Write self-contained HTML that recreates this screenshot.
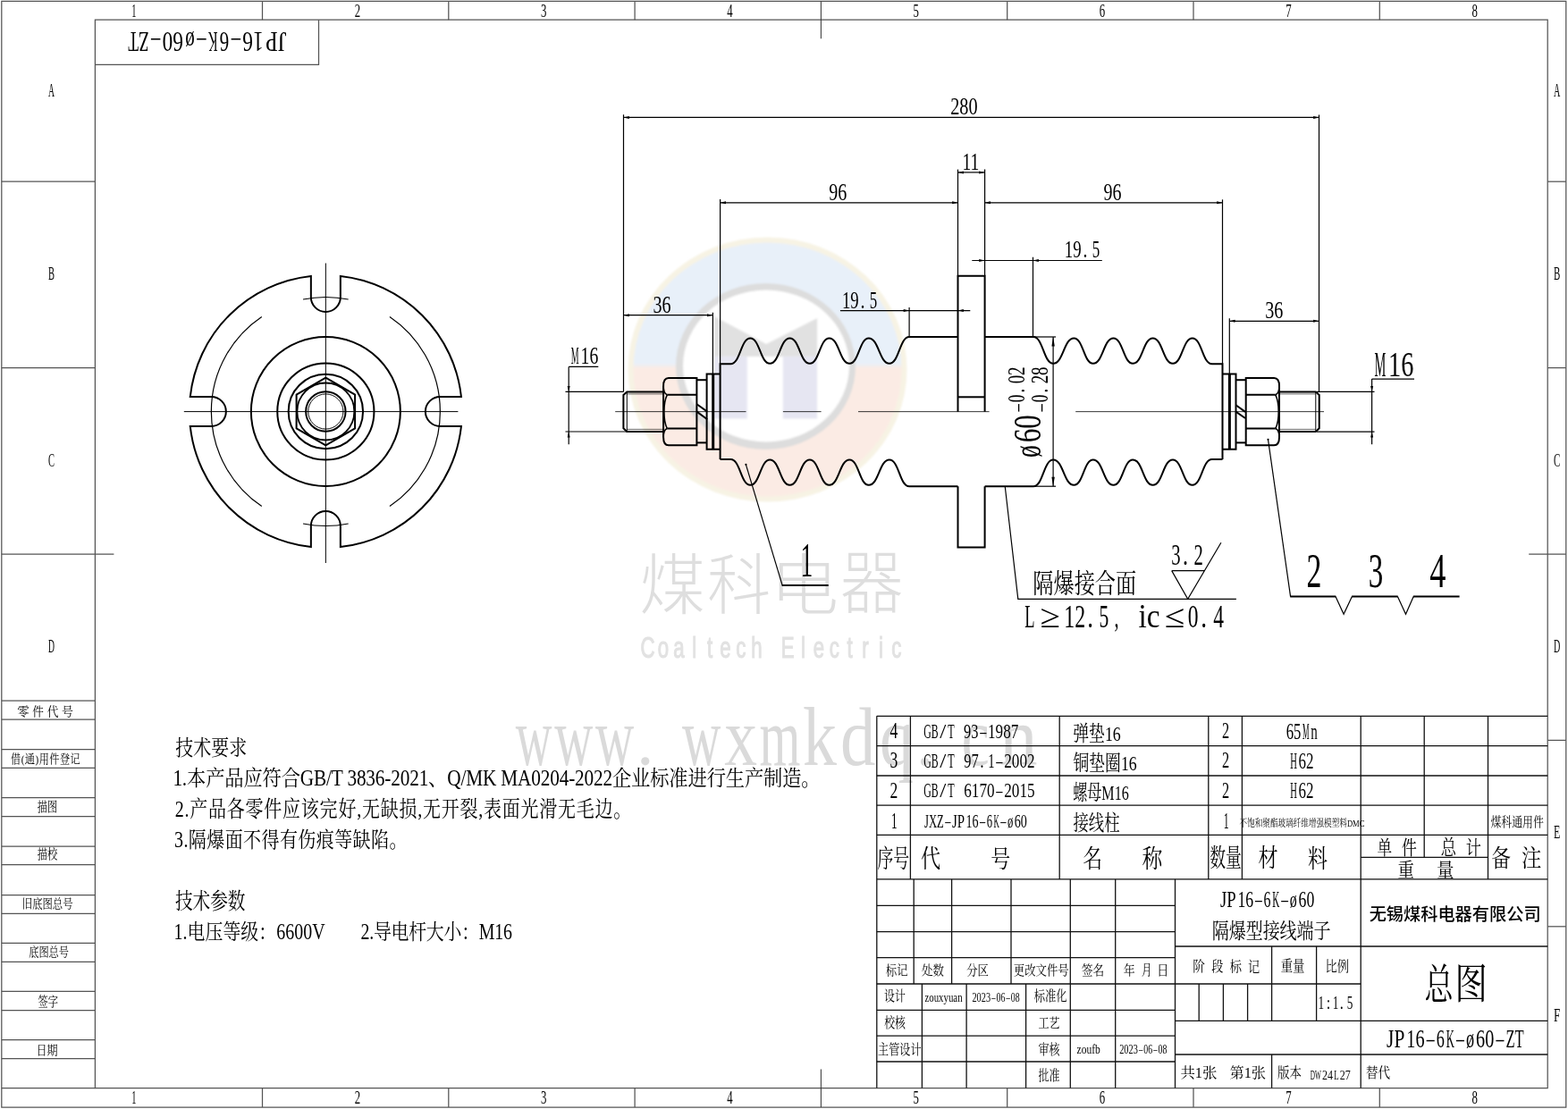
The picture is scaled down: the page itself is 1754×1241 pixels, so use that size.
<!DOCTYPE html>
<html lang="zh"><head><meta charset="utf-8"><title>JP16-6K-ø60-ZT</title>
<style>
html,body{margin:0;padding:0;background:#fff;}
body{width:1754px;height:1241px;overflow:hidden;font-family:"Liberation Serif",serif;}
svg{display:block;opacity:0.999;}
svg path,svg circle,svg ellipse{vector-effect:none}
.cj{font-family:"Liberation Serif","Noto Serif CJK SC",serif;}
.cs{font-family:"Liberation Sans","Noto Sans CJK SC",sans-serif;}
</style></head><body>
<svg width="1754" height="1241" viewBox="0 0 1754 1241" fill="none" stroke-linecap="butt" stroke-linejoin="miter">
<defs><linearGradient id="lg" gradientUnits="userSpaceOnUse" x1="0" y1="406.5" x2="0" y2="412.5"><stop offset="0" stop-color="#e8f0f9"/><stop offset="1" stop-color="#fbebe4"/></linearGradient>
<filter id="bl" x="-10%" y="-10%" width="120%" height="120%"><feGaussianBlur stdDeviation="1.3"/></filter></defs>
<g filter="url(#bl)">
<ellipse cx="858.5" cy="413.5" rx="156" ry="148" fill="#f7f3e4"/>
<ellipse cx="858.5" cy="413.5" rx="150" ry="142" fill="url(#lg)"/>
<ellipse cx="856.5" cy="410" rx="100.5" ry="93" fill="#dddddd"/>
<ellipse cx="857" cy="409.5" rx="93" ry="85" fill="#fff"/>
<path d="M799 354L857.2 385L914.2 356L914.2 399L799 399Z" fill="#e1e1e1"/>
<rect x="799" y="398.7" width="36.8" height="69.9" fill="#e6e6f2"/>
<rect x="875.8" y="398.7" width="38.4" height="69.9" fill="#e6e6f2"/>
</g>
<text class="cs" font-weight="300" transform="matrix(0.7384 0 0 0.7359 715.17 680.61)" font-size="100" fill="#dedede">煤</text>
<text class="cs" font-weight="300" transform="matrix(0.7129 0 0 0.7367 791.1 680.75)" font-size="100" fill="#dedede">科</text>
<text class="cs" font-weight="300" transform="matrix(0.7656 0 0 0.7514 861.55 681.77)" font-size="100" fill="#dedede">电</text>
<text class="cs" font-weight="300" transform="matrix(0.7091 0 0 0.7737 939.67 680.31)" font-size="100" fill="#dedede">器</text>
<text transform="matrix(0.222 0 0 0.325 724.59 736.4)" text-anchor="middle" font-family="Liberation Sans" font-size="100" fill="#e2e2e2" stroke="#e2e2e2" stroke-width="3.5">C</text>
<text transform="matrix(0.222 0 0 0.325 741.98 736.4)" text-anchor="middle" font-family="Liberation Sans" font-size="100" fill="#e2e2e2" stroke="#e2e2e2" stroke-width="3.5">o</text>
<text transform="matrix(0.222 0 0 0.325 759.37 736.4)" text-anchor="middle" font-family="Liberation Sans" font-size="100" fill="#e2e2e2" stroke="#e2e2e2" stroke-width="3.5">a</text>
<text transform="matrix(0.222 0 0 0.325 776.76 736.4)" text-anchor="middle" font-family="Liberation Sans" font-size="100" fill="#e2e2e2" stroke="#e2e2e2" stroke-width="3.5">l</text>
<text transform="matrix(0.222 0 0 0.325 794.15 736.4)" text-anchor="middle" font-family="Liberation Sans" font-size="100" fill="#e2e2e2" stroke="#e2e2e2" stroke-width="3.5">t</text>
<text transform="matrix(0.222 0 0 0.325 811.54 736.4)" text-anchor="middle" font-family="Liberation Sans" font-size="100" fill="#e2e2e2" stroke="#e2e2e2" stroke-width="3.5">e</text>
<text transform="matrix(0.222 0 0 0.325 828.92 736.4)" text-anchor="middle" font-family="Liberation Sans" font-size="100" fill="#e2e2e2" stroke="#e2e2e2" stroke-width="3.5">c</text>
<text transform="matrix(0.222 0 0 0.325 846.31 736.4)" text-anchor="middle" font-family="Liberation Sans" font-size="100" fill="#e2e2e2" stroke="#e2e2e2" stroke-width="3.5">h</text>
<text transform="matrix(0.222 0 0 0.325 881.09 736.4)" text-anchor="middle" font-family="Liberation Sans" font-size="100" fill="#e2e2e2" stroke="#e2e2e2" stroke-width="3.5">E</text>
<text transform="matrix(0.222 0 0 0.325 898.48 736.4)" text-anchor="middle" font-family="Liberation Sans" font-size="100" fill="#e2e2e2" stroke="#e2e2e2" stroke-width="3.5">l</text>
<text transform="matrix(0.222 0 0 0.325 915.86 736.4)" text-anchor="middle" font-family="Liberation Sans" font-size="100" fill="#e2e2e2" stroke="#e2e2e2" stroke-width="3.5">e</text>
<text transform="matrix(0.222 0 0 0.325 933.25 736.4)" text-anchor="middle" font-family="Liberation Sans" font-size="100" fill="#e2e2e2" stroke="#e2e2e2" stroke-width="3.5">c</text>
<text transform="matrix(0.222 0 0 0.325 950.64 736.4)" text-anchor="middle" font-family="Liberation Sans" font-size="100" fill="#e2e2e2" stroke="#e2e2e2" stroke-width="3.5">t</text>
<text transform="matrix(0.222 0 0 0.325 968.03 736.4)" text-anchor="middle" font-family="Liberation Sans" font-size="100" fill="#e2e2e2" stroke="#e2e2e2" stroke-width="3.5">r</text>
<text transform="matrix(0.222 0 0 0.325 985.42 736.4)" text-anchor="middle" font-family="Liberation Sans" font-size="100" fill="#e2e2e2" stroke="#e2e2e2" stroke-width="3.5">i</text>
<text transform="matrix(0.222 0 0 0.325 1002.81 736.4)" text-anchor="middle" font-family="Liberation Sans" font-size="100" fill="#e2e2e2" stroke="#e2e2e2" stroke-width="3.5">c</text>
<text transform="matrix(0.5637 0 0 0.9400 576.8 856)" font-family="Liberation Serif" font-size="100" fill="#dadada">w</text>
<text transform="matrix(0.5970 0 0 0.9400 620.2 856)" font-family="Liberation Serif" font-size="100" fill="#dadada">w</text>
<text transform="matrix(0.5983 0 0 0.9400 666 856)" font-family="Liberation Serif" font-size="100" fill="#dadada">w</text>
<text transform="matrix(0.5997 0 0 0.9400 763 856)" font-family="Liberation Serif" font-size="100" fill="#dadada">w</text>
<text transform="matrix(0.7360 0 0 0.9400 810.2 856)" font-family="Liberation Serif" font-size="100" fill="#dadada">x</text>
<text transform="matrix(0.5900 0 0 0.9400 849.5 856)" font-family="Liberation Serif" font-size="100" fill="#dadada">m</text>
<text transform="matrix(0.7600 0 0 0.9400 898 856)" font-family="Liberation Serif" font-size="100" fill="#dadada">k</text>
<text transform="matrix(0.7880 0 0 0.9400 940 856)" font-family="Liberation Serif" font-size="100" fill="#dadada">d</text>
<text transform="matrix(0.7600 0 0 0.9400 984 856)" font-family="Liberation Serif" font-size="100" fill="#dadada">q</text>
<text transform="matrix(0.7095 0 0 0.9400 1075.4 856)" font-family="Liberation Serif" font-size="100" fill="#dadada">c</text>
<text transform="matrix(0.8520 0 0 0.9400 1118 856)" font-family="Liberation Serif" font-size="100" fill="#dadada">n</text>
<circle cx="721.8" cy="851.8" r="4.6" fill="#dadada"/>
<circle cx="1034.5" cy="852.5" r="4.6" fill="#dadada"/>
<path d="M1.8 1.3H1751.8V1239.0H1.8Z" stroke="#545454" stroke-width="1.25" fill="none" />
<path d="M106.4 22.2H1731.2V1217.5H106.4Z" stroke="#545454" stroke-width="1.25" fill="none" />
<path d="M1.8 1217.5L106.4 1217.5" stroke="#545454" stroke-width="1.25"/>
<path d="M293.5 1.3L293.5 22.2" stroke="#545454" stroke-width="1.25"/>
<path d="M293.5 1217.5L293.5 1239" stroke="#545454" stroke-width="1.25"/>
<path d="M501.8 1.3L501.8 22.2" stroke="#545454" stroke-width="1.25"/>
<path d="M501.8 1217.5L501.8 1239" stroke="#545454" stroke-width="1.25"/>
<path d="M710.1 1.3L710.1 22.2" stroke="#545454" stroke-width="1.25"/>
<path d="M710.1 1217.5L710.1 1239" stroke="#545454" stroke-width="1.25"/>
<path d="M918.4 1.3L918.4 43.2" stroke="#3a3a3a" stroke-width="1.05"/>
<path d="M918.4 1196.5L918.4 1239" stroke="#3a3a3a" stroke-width="1.05"/>
<path d="M1126.7 1.3L1126.7 22.2" stroke="#545454" stroke-width="1.25"/>
<path d="M1126.7 1217.5L1126.7 1239" stroke="#545454" stroke-width="1.25"/>
<path d="M1335 1.3L1335 22.2" stroke="#545454" stroke-width="1.25"/>
<path d="M1335 1217.5L1335 1239" stroke="#545454" stroke-width="1.25"/>
<path d="M1543.3 1.3L1543.3 22.2" stroke="#545454" stroke-width="1.25"/>
<path d="M1543.3 1217.5L1543.3 1239" stroke="#545454" stroke-width="1.25"/>
<path d="M1731.2 203.2L1751.8 203.2" stroke="#545454" stroke-width="1.25"/>
<path d="M1.8 203.2L106.4 203.2" stroke="#545454" stroke-width="1.25"/>
<path d="M1731.2 411.6L1751.8 411.6" stroke="#545454" stroke-width="1.25"/>
<path d="M1.8 411.6L106.4 411.6" stroke="#545454" stroke-width="1.25"/>
<path d="M1710.2 620L1751.8 620" stroke="#545454" stroke-width="1.25"/>
<path d="M1.8 620L127.4 620" stroke="#545454" stroke-width="1.25"/>
<path d="M1731.2 828.4L1751.8 828.4" stroke="#545454" stroke-width="1.25"/>
<path d="M1731.2 1036.8L1751.8 1036.8" stroke="#545454" stroke-width="1.25"/>
<path d="M1.8 784.2L106.4 784.2" stroke="#545454" stroke-width="1.25"/>
<path d="M1.8 805.2L106.4 805.2" stroke="#545454" stroke-width="1.25"/>
<path d="M1.8 838.5L106.4 838.5" stroke="#545454" stroke-width="1.25"/>
<path d="M1.8 859.4L106.4 859.4" stroke="#545454" stroke-width="1.25"/>
<path d="M1.8 892.7L106.4 892.7" stroke="#545454" stroke-width="1.25"/>
<path d="M1.8 913.5L106.4 913.5" stroke="#545454" stroke-width="1.25"/>
<path d="M1.8 947L106.4 947" stroke="#545454" stroke-width="1.25"/>
<path d="M1.8 967.5L106.4 967.5" stroke="#545454" stroke-width="1.25"/>
<path d="M1.8 1001.5L106.4 1001.5" stroke="#545454" stroke-width="1.25"/>
<path d="M1.8 1022.3L106.4 1022.3" stroke="#545454" stroke-width="1.25"/>
<path d="M1.8 1055.4L106.4 1055.4" stroke="#545454" stroke-width="1.25"/>
<path d="M1.8 1076.3L106.4 1076.3" stroke="#545454" stroke-width="1.25"/>
<path d="M1.8 1109.4L106.4 1109.4" stroke="#545454" stroke-width="1.25"/>
<path d="M1.8 1130.5L106.4 1130.5" stroke="#545454" stroke-width="1.25"/>
<path d="M1.8 1163.6L106.4 1163.6" stroke="#545454" stroke-width="1.25"/>
<path d="M1.8 1184.5L106.4 1184.5" stroke="#545454" stroke-width="1.25"/>
<path d="M106.4 72.3H356.5V22.2" stroke="#545454" stroke-width="1.25" fill="none" />
<text transform="matrix(0.1040 0 0 0.2152 147.25 19)" font-family="Liberation Serif" font-size="100" fill="#000" >1</text>
<text transform="matrix(0.1040 0 0 0.2121 147.25 1235.2)" font-family="Liberation Serif" font-size="100" fill="#000" >1</text>
<text transform="matrix(0.1280 0 0 0.2145 396.65 19)" font-family="Liberation Serif" font-size="100" fill="#000" >2</text>
<text transform="matrix(0.1280 0 0 0.2115 396.65 1235.2)" font-family="Liberation Serif" font-size="100" fill="#000" >2</text>
<text transform="matrix(0.1280 0 0 0.2145 604.95 19)" font-family="Liberation Serif" font-size="100" fill="#000" >3</text>
<text transform="matrix(0.1280 0 0 0.2115 604.95 1235.2)" font-family="Liberation Serif" font-size="100" fill="#000" >3</text>
<text transform="matrix(0.1280 0 0 0.2158 813.25 19)" font-family="Liberation Serif" font-size="100" fill="#000" >4</text>
<text transform="matrix(0.1280 0 0 0.2128 813.25 1235.2)" font-family="Liberation Serif" font-size="100" fill="#000" >4</text>
<text transform="matrix(0.1280 0 0 0.2168 1021.55 19)" font-family="Liberation Serif" font-size="100" fill="#000" >5</text>
<text transform="matrix(0.1280 0 0 0.2137 1021.55 1235.2)" font-family="Liberation Serif" font-size="100" fill="#000" >5</text>
<text transform="matrix(0.1280 0 0 0.2145 1229.85 19)" font-family="Liberation Serif" font-size="100" fill="#000" >6</text>
<text transform="matrix(0.1280 0 0 0.2115 1229.85 1235.2)" font-family="Liberation Serif" font-size="100" fill="#000" >6</text>
<text transform="matrix(0.1280 0 0 0.2168 1438.15 19)" font-family="Liberation Serif" font-size="100" fill="#000" >7</text>
<text transform="matrix(0.1280 0 0 0.2137 1438.15 1235.2)" font-family="Liberation Serif" font-size="100" fill="#000" >7</text>
<text transform="matrix(0.1280 0 0 0.2135 1646.55 19)" font-family="Liberation Serif" font-size="100" fill="#000" >8</text>
<text transform="matrix(0.1280 0 0 0.2105 1646.55 1235.2)" font-family="Liberation Serif" font-size="100" fill="#000" >8</text>
<text transform="matrix(0.1011 0 0 0.2030 1738 107.95)" font-family="Liberation Serif" font-size="100" fill="#000" >A</text>
<text transform="matrix(0.0970 0 0 0.2030 54 107.95)" font-family="Liberation Serif" font-size="100" fill="#000" >A</text>
<text transform="matrix(0.1094 0 0 0.2046 1738 313.1)" font-family="Liberation Serif" font-size="100" fill="#000" >B</text>
<text transform="matrix(0.1049 0 0 0.2046 54 313.1)" font-family="Liberation Serif" font-size="100" fill="#000" >B</text>
<text transform="matrix(0.1094 0 0 0.2024 1738 521.5)" font-family="Liberation Serif" font-size="100" fill="#000" >C</text>
<text transform="matrix(0.1049 0 0 0.2024 54 521.5)" font-family="Liberation Serif" font-size="100" fill="#000" >C</text>
<text transform="matrix(0.1011 0 0 0.2046 1738 729.9)" font-family="Liberation Serif" font-size="100" fill="#000" >D</text>
<text transform="matrix(0.0970 0 0 0.2046 54 729.9)" font-family="Liberation Serif" font-size="100" fill="#000" >D</text>
<text transform="matrix(0.1195 0 0 0.2046 1738 938.3)" font-family="Liberation Serif" font-size="100" fill="#000" >E</text>
<text transform="matrix(0.1313 0 0 0.2046 1738 1142.8)" font-family="Liberation Serif" font-size="100" fill="#000" >F</text>
<g transform="rotate(180 231.8 47.15)">
<text transform="matrix(0.2469 0 0 0.3233 143.2 57.9)" font-family="Liberation Serif" font-size="100" fill="#000">JP</text>
<text transform="matrix(0.2334 0 0 0.3233 168.84 57.9)" font-family="Liberation Serif" font-size="100" fill="#000">16</text>
<text transform="matrix(0.2046 0 0 0.3233 194.63 57.9)" font-family="Liberation Serif" font-size="100" fill="#000">–</text>
<text transform="matrix(0.2103 0 0 0.3233 207.31 57.9)" font-family="Liberation Serif" font-size="100" fill="#000">6</text>
<text transform="matrix(0.1456 0 0 0.3233 220.13 57.9)" font-family="Liberation Serif" font-size="100" fill="#000">K</text>
<text transform="matrix(0.2046 0 0 0.3233 233.1 57.9)" font-family="Liberation Serif" font-size="100" fill="#000">–</text>
<text transform="matrix(0.2103 0 0 0.3233 245.78 57.9)" font-family="Liberation Serif" font-size="100" fill="#000">ø</text>
<text transform="matrix(0.2334 0 0 0.3233 258.6 57.9)" font-family="Liberation Serif" font-size="100" fill="#000">60</text>
<text transform="matrix(0.2046 0 0 0.3233 284.39 57.9)" font-family="Liberation Serif" font-size="100" fill="#000">–</text>
<text transform="matrix(0.1910 0 0 0.3233 297.06 57.9)" font-family="Liberation Serif" font-size="100" fill="#000">ZT</text>
</g>
<text class="cj" transform="matrix(0.1350 0 0 0.1389 19.37 800.61)" font-size="100" fill="#000">零</text>
<text class="cj" transform="matrix(0.1263 0 0 0.1392 36.17 800.64)" font-size="100" fill="#000">件</text>
<text class="cj" transform="matrix(0.1267 0 0 0.1387 52.7 800.62)" font-size="100" fill="#000">代</text>
<text class="cj" transform="matrix(0.1286 0 0 0.1398 68.97 800.63)" font-size="100" fill="#000">号</text>
<text class="cj" transform="matrix(0.1110 0 0 0.1346 12.03 854.28)" font-size="100" fill="#000" textLength="700">借(通)用件登记</text>
<text class="cj" transform="matrix(0.1120 0 0 0.1432 41.7 908)" font-size="100" fill="#000">描图</text>
<text class="cj" transform="matrix(0.1124 0 0 0.1479 41.7 961.43)" font-size="100" fill="#000">描校</text>
<text class="cj" transform="matrix(0.1134 0 0 0.1404 24.87 1016.28)" font-size="100" fill="#000">旧底图总号</text>
<text class="cj" transform="matrix(0.1122 0 0 0.1383 32.21 1069.7)" font-size="100" fill="#000">底图总号</text>
<text class="cj" transform="matrix(0.1125 0 0 0.1459 42.39 1125.95)" font-size="100" fill="#000">签字</text>
<text class="cj" transform="matrix(0.1206 0 0 0.1418 40.39 1179.79)" font-size="100" fill="#000">日期</text>
<path d="M515.95 444A152.5 152.5 0 0 0 380.85 308.9L380.85 332.5A16.5 16.5 0 0 1 347.85 332.5L347.85 308.9A152.5 152.5 0 0 0 212.75 444L236.35 444A16.5 16.5 0 0 1 236.35 477L212.75 477A152.5 152.5 0 0 0 347.85 612.1L347.85 588.5A16.5 16.5 0 0 1 380.85 588.5L380.85 612.1A152.5 152.5 0 0 0 515.95 477L492.35 477A16.5 16.5 0 0 1 492.35 444L515.95 444Z" stroke="#000" stroke-width="2.0" fill="none" />
<path d="M292.77 354.38A128.0 128.0 0 0 0 292.77 566.62" stroke="#000" stroke-width="1.2" fill="none" />
<path d="M435.93 566.62A128.0 128.0 0 0 0 435.93 354.38" stroke="#000" stroke-width="1.2" fill="none" />
<path d="M389.65 335.03A128.0 128.0 0 0 0 339.05 335.03" stroke="#000" stroke-width="1.2" fill="none" />
<path d="M339.05 585.97A128.0 128.0 0 0 0 389.65 585.97" stroke="#000" stroke-width="1.2" fill="none" />
<circle cx="364.35" cy="460.5" r="83.5" stroke="#000" stroke-width="2.0" fill="none"/>
<circle cx="364.35" cy="460.5" r="54.1" stroke="#000" stroke-width="2.0" fill="none"/>
<circle cx="364.35" cy="460.5" r="41.7" stroke="#000" stroke-width="2.0" fill="none"/>
<path d="M364.35 422.7L397.09 441.6L397.09 479.4L364.35 498.3L331.61 479.4L331.61 441.6Z" stroke="#000" stroke-width="2.0" fill="none" />
<circle cx="364.35" cy="460.5" r="32" stroke="#000" stroke-width="1.8" fill="none"/>
<circle cx="364.35" cy="460.5" r="22.2" stroke="#000" stroke-width="2.0" fill="none"/>
<circle cx="364.35" cy="460.5" r="19.6" stroke="#000" stroke-width="0.95" fill="none"/>
<path d="M205.8 460.6L512.4 460.6" stroke="#000" stroke-width="1.0"/>
<path d="M364.35 294.5L364.35 630" stroke="#000" stroke-width="1.0"/>
<path d="M1071.5 377L1017.1 377C1006.22 377 1005.78 406.8 994.9 406.8C983.58 406.8 983.12 378.5 971.8 378.5C961.26 378.5 960.83 406.8 950.3 406.8C939.18 406.8 938.72 378.5 927.6 378.5C916.92 378.5 916.48 406.8 905.8 406.8C894.87 406.8 894.43 378.5 883.5 378.5C872.57 378.5 872.13 406.8 861.2 406.8C850.47 406.8 850.03 378.5 839.3 378.5C828.57 378.5 828.13 407.3 817.4 407.3L805.6 407.3L805.6 514" stroke="#000" stroke-width="2.0" fill="none" />
<path d="M1071.5 544.3L1017.1 544.3C1006.22 544.3 1005.78 514.5 994.9 514.5C983.58 514.5 983.12 542.8 971.8 542.8C961.26 542.8 960.83 514.5 950.3 514.5C939.18 514.5 938.72 542.8 927.6 542.8C916.92 542.8 916.48 514.5 905.8 514.5C894.87 514.5 894.43 542.8 883.5 542.8C872.57 542.8 872.13 514.5 861.2 514.5C850.47 514.5 850.03 542.8 839.3 542.8C828.57 542.8 828.13 514 817.4 514L805.6 514" stroke="#000" stroke-width="2.0" fill="none" />
<path d="M1101.6 377L1156 377C1166.88 377 1167.32 406.8 1178.2 406.8C1189.52 406.8 1189.98 378.5 1201.3 378.5C1211.84 378.5 1212.26 406.8 1222.8 406.8C1233.92 406.8 1234.38 378.5 1245.5 378.5C1256.18 378.5 1256.62 406.8 1267.3 406.8C1278.23 406.8 1278.67 378.5 1289.6 378.5C1300.53 378.5 1300.97 406.8 1311.9 406.8C1322.63 406.8 1323.07 378.5 1333.8 378.5C1344.53 378.5 1344.97 407.3 1355.7 407.3L1367.5 407.3L1367.5 514" stroke="#000" stroke-width="2.0" fill="none" />
<path d="M1101.6 544.3L1156 544.3C1166.88 544.3 1167.32 514.5 1178.2 514.5C1189.52 514.5 1189.98 542.8 1201.3 542.8C1211.84 542.8 1212.26 514.5 1222.8 514.5C1233.92 514.5 1234.38 542.8 1245.5 542.8C1256.18 542.8 1256.62 514.5 1267.3 514.5C1278.23 514.5 1278.67 542.8 1289.6 542.8C1300.53 542.8 1300.97 514.5 1311.9 514.5C1322.63 514.5 1323.07 542.8 1333.8 542.8C1344.53 542.8 1344.97 514 1355.7 514L1367.5 514" stroke="#000" stroke-width="2.0" fill="none" />
<path d="M1071.5 460.65V308.8H1101.6V460.65" stroke="#000" stroke-width="2.0" fill="none" />
<path d="M1071.5 444.3L1101.6 444.3" stroke="#000" stroke-width="2.0"/>
<path d="M1071.5 544.3V612.4H1101.6V544.3" stroke="#000" stroke-width="2.0" fill="none" />
<path d="M688.2 460.65L834.5 460.65" stroke="#000" stroke-width="0.8"/>
<path d="M875.9 460.65L918.6 460.65" stroke="#000" stroke-width="0.8"/>
<path d="M960 460.65L1106.6 460.65" stroke="#000" stroke-width="0.8"/>
<path d="M1203.2 460.65L1481 460.65" stroke="#000" stroke-width="0.8"/>
<path d="M742 438.4H701.3L697.4 442V479.3L701.3 482.9H742" stroke="#000" stroke-width="2.0" fill="none" />
<path d="M701.3 438.4L701.3 482.9" stroke="#000" stroke-width="1.0"/>
<path d="M701.3 440.9L742 440.9" stroke="#000" stroke-width="0.6"/>
<path d="M701.3 480.4L742 480.4" stroke="#000" stroke-width="0.6"/>
<path d="M779.4 423.0H747.9C743.6 423.0 742.1 427.5 742.1 432V489.3C742.1 493.8 743.6 498.3 747.9 498.3H779.4Z" stroke="#000" stroke-width="2.0" fill="none" />
<path d="M746.3 441.8L779.4 441.8" stroke="#000" stroke-width="2.0"/>
<path d="M746.3 479.5L779.4 479.5" stroke="#000" stroke-width="2.0"/>
<path d="M742.1 432C742.1 437 743.6 440.8 746.3 441.8" stroke="#000" stroke-width="1.6" fill="none" />
<path d="M742.1 489.3C742.1 484.3 743.6 480.5 746.3 479.5" stroke="#000" stroke-width="1.6" fill="none" />
<path d="M746.3 441.8C741.7 450.8 741.7 470.5 746.3 479.5" stroke="#000" stroke-width="1.6" fill="none" />
<path d="M779.4 425.2L790.6 425.2" stroke="#000" stroke-width="2.0"/>
<path d="M779.4 495.4L790.6 495.4" stroke="#000" stroke-width="2.0"/>
<path d="M805.6 418.5H790.6V502.8H805.6" stroke="#000" stroke-width="2.0" fill="none" />
<path d="M797.7 418.5L797.7 502.8" stroke="#000" stroke-width="3.0"/>
<path d="M1431.1 438.4H1471.8L1475.7 442V479.3L1471.8 482.9H1431.1" stroke="#000" stroke-width="2.0" fill="none" />
<path d="M1471.8 438.4L1471.8 482.9" stroke="#000" stroke-width="1.0"/>
<path d="M1471.8 440.9L1431.1 440.9" stroke="#000" stroke-width="0.6"/>
<path d="M1471.8 480.4L1431.1 480.4" stroke="#000" stroke-width="0.6"/>
<path d="M1393.7 423.0H1425.2C1429.5 423.0 1431 427.5 1431 432V489.3C1431 493.8 1429.5 498.3 1425.2 498.3H1393.7Z" stroke="#000" stroke-width="2.0" fill="none" />
<path d="M1426.8 441.8L1393.7 441.8" stroke="#000" stroke-width="2.0"/>
<path d="M1426.8 479.5L1393.7 479.5" stroke="#000" stroke-width="2.0"/>
<path d="M1431 432C1431 437 1429.5 440.8 1426.8 441.8" stroke="#000" stroke-width="1.6" fill="none" />
<path d="M1431 489.3C1431 484.3 1429.5 480.5 1426.8 479.5" stroke="#000" stroke-width="1.6" fill="none" />
<path d="M1426.8 441.8C1431.4 450.8 1431.4 470.5 1426.8 479.5" stroke="#000" stroke-width="1.6" fill="none" />
<path d="M1393.7 425.2L1382.5 425.2" stroke="#000" stroke-width="2.0"/>
<path d="M1393.7 495.4L1382.5 495.4" stroke="#000" stroke-width="2.0"/>
<path d="M1367.5 418.5H1382.5V502.8H1367.5" stroke="#000" stroke-width="2.0" fill="none" />
<path d="M1375.4 418.5L1375.4 502.8" stroke="#000" stroke-width="3.0"/>
<path d="M779.4 452.3L791.2 460.6" stroke="#000" stroke-width="2.0"/>
<path d="M779.4 460.6L791.2 469.2" stroke="#000" stroke-width="2.0"/>
<path d="M1382.4 453.3L1393 460.9" stroke="#000" stroke-width="2.0"/>
<path d="M1382.4 460.6L1393 468" stroke="#000" stroke-width="2.0"/>
<path d="M697.5 128.2L697.5 438.4" stroke="#000" stroke-width="1.2"/>
<path d="M1475.5 128.4L1475.5 438.4" stroke="#000" stroke-width="1.2"/>
<path d="M697.5 131.4L1475.5 131.4" stroke="#000" stroke-width="1.2"/>
<path d="M697.5 131.4L703.9 129.9L703.9 132.9Z" fill="#000"/>
<path d="M1475.5 131.4L1469.1 132.9L1469.1 129.9Z" fill="#000"/>
<text transform="matrix(0.2027 0 0 0.2752 1063.2 128.4)" font-family="Liberation Serif" font-size="100" fill="#000">280</text>
<path d="M1071.5 189.6L1071.5 308.8" stroke="#000" stroke-width="1.2"/>
<path d="M1101.6 189.6L1101.6 308.8" stroke="#000" stroke-width="1.2"/>
<path d="M1071.5 192.9L1101.6 192.9" stroke="#000" stroke-width="1.2"/>
<path d="M1071.5 192.9L1077.9 191.4L1077.9 194.4Z" fill="#000"/>
<path d="M1101.6 192.9L1095.2 194.4L1095.2 191.4Z" fill="#000"/>
<text transform="matrix(0.1952 0 0 0.2827 1076.5 189.6)" font-family="Liberation Serif" font-size="100" fill="#000">11</text>
<path d="M805.6 223L805.6 407.3" stroke="#000" stroke-width="1.2"/>
<path d="M1367.5 223.3L1367.5 407.3" stroke="#000" stroke-width="1.2"/>
<path d="M805.6 226.8L1071.5 226.8" stroke="#000" stroke-width="1.2"/>
<path d="M805.6 226.8L812 225.3L812 228.3Z" fill="#000"/>
<path d="M1071.5 226.8L1065.1 228.3L1065.1 225.3Z" fill="#000"/>
<path d="M1101.6 226.8L1367.5 226.8" stroke="#000" stroke-width="1.2"/>
<path d="M1101.6 226.8L1108 225.3L1108 228.3Z" fill="#000"/>
<path d="M1367.5 226.8L1361.1 228.3L1361.1 225.3Z" fill="#000"/>
<text transform="matrix(0.2010 0 0 0.2752 927.3 223.5)" font-family="Liberation Serif" font-size="100" fill="#000">96</text>
<text transform="matrix(0.2000 0 0 0.2752 1234.6 223.5)" font-family="Liberation Serif" font-size="100" fill="#000">96</text>
<path d="M1087.3 291.5L1232.8 291.5" stroke="#000" stroke-width="1.2"/>
<path d="M1101.6 291.5L1095.2 293L1095.2 290Z" fill="#000"/>
<path d="M1155.5 291.5L1161.9 290L1161.9 293Z" fill="#000"/>
<path d="M1155.5 287.7L1155.5 377" stroke="#000" stroke-width="1.2"/>
<text transform="matrix(0.1887 0 0 0.2677 1190.7 287.7)" font-family="Liberation Serif" font-size="100" fill="#000">19</text>
<text transform="matrix(0.1981 0 0 0.2677 1211.51 287.7)" font-family="Liberation Serif" font-size="100" fill="#000">.</text>
<text transform="matrix(0.1700 0 0 0.2677 1221.8 287.7)" font-family="Liberation Serif" font-size="100" fill="#000">5</text>
<path d="M939.9 347.6L1085.3 347.6" stroke="#000" stroke-width="1.2"/>
<path d="M1017.1 347.6L1010.7 349.1L1010.7 346.1Z" fill="#000"/>
<path d="M1071.5 347.6L1077.9 346.1L1077.9 349.1Z" fill="#000"/>
<path d="M1017.1 343.9L1017.1 377" stroke="#000" stroke-width="1.2"/>
<text transform="matrix(0.1877 0 0 0.2737 941.9 345)" font-family="Liberation Serif" font-size="100" fill="#000">19</text>
<text transform="matrix(0.2025 0 0 0.2737 962.53 345)" font-family="Liberation Serif" font-size="100" fill="#000">.</text>
<text transform="matrix(0.1692 0 0 0.2737 972.84 345)" font-family="Liberation Serif" font-size="100" fill="#000">5</text>
<path d="M697.5 352.7L797.4 352.7" stroke="#000" stroke-width="1.2"/>
<path d="M697.5 352.7L703.9 351.2L703.9 354.2Z" fill="#000"/>
<path d="M797.4 352.7L791 354.2L791 351.2Z" fill="#000"/>
<path d="M797.4 349.7L797.4 418.5" stroke="#000" stroke-width="1.2"/>
<text transform="matrix(0.2010 0 0 0.2812 730.4 349.7)" font-family="Liberation Serif" font-size="100" fill="#000">36</text>
<path d="M1375.3 359.3L1475.5 359.3" stroke="#000" stroke-width="1.2"/>
<path d="M1375.3 359.3L1381.7 357.8L1381.7 360.8Z" fill="#000"/>
<path d="M1475.5 359.3L1469.1 360.8L1469.1 357.8Z" fill="#000"/>
<path d="M1375.3 356.2L1375.3 418.5" stroke="#000" stroke-width="1.2"/>
<text transform="matrix(0.2010 0 0 0.2677 1415.2 356)" font-family="Liberation Serif" font-size="100" fill="#000">36</text>
<path d="M636.2 410.4L636.2 497.3" stroke="#000" stroke-width="1.2"/>
<path d="M636.2 410.4L669.3 410.4" stroke="#000" stroke-width="1.2"/>
<path d="M632.5 438.3L697.4 438.3" stroke="#000" stroke-width="1.2"/>
<path d="M632.5 483L701.3 483" stroke="#000" stroke-width="1.2"/>
<path d="M636.2 438.3L634.7 431.9L637.7 431.9Z" fill="#000"/>
<path d="M636.2 483L637.7 489.4L634.7 489.4Z" fill="#000"/>
<text transform="matrix(0.0998 0 0 0.2662 638.8 407.2)" font-family="Liberation Serif" font-size="100" fill="#000">M</text>
<text transform="matrix(0.1968 0 0 0.2662 649.62 407.2)" font-family="Liberation Serif" font-size="100" fill="#000">16</text>
<path d="M1534.6 424.1L1534.6 497.3" stroke="#000" stroke-width="1.2"/>
<path d="M1534.6 424.1L1582 424.1" stroke="#000" stroke-width="1.2"/>
<path d="M1472.9 438.3L1537.5 438.3" stroke="#000" stroke-width="1.2"/>
<path d="M1472.9 483.1L1537.5 483.1" stroke="#000" stroke-width="1.2"/>
<path d="M1534.6 438.3L1533.1 431.9L1536.1 431.9Z" fill="#000"/>
<path d="M1534.6 483.1L1536.1 489.5L1533.1 489.5Z" fill="#000"/>
<text transform="matrix(0.1439 0 0 0.3985 1537.5 421.3)" font-family="Liberation Serif" font-size="100" fill="#000">M</text>
<text transform="matrix(0.2840 0 0 0.3985 1553.1 421.3)" font-family="Liberation Serif" font-size="100" fill="#000">16</text>
<path d="M1178.1 377L1178.1 544.2" stroke="#000" stroke-width="1.2"/>
<path d="M1178.1 377L1179.8 387.5L1176.4 387.5Z" fill="#000"/>
<path d="M1178.1 544.2L1176.4 533.7L1179.8 533.7Z" fill="#000"/>
<path d="M1155.5 377L1181.1 377" stroke="#000" stroke-width="1.2"/>
<path d="M1158 544.2L1181.1 544.2" stroke="#000" stroke-width="1.2"/>
<g transform="translate(1164.3 512) rotate(-90)">
<text transform="matrix(0.2774 0 0 0.4331 0 0)" font-family="Liberation Serif" font-size="100" fill="#000">ø</text>
<text transform="matrix(0.3079 0 0 0.4331 16.91 0)" font-family="Liberation Serif" font-size="100" fill="#000">60</text>
</g>
<g transform="translate(1145.5 460.6) rotate(-90)">
<text transform="matrix(0.1662 0 0 0.2827 0.12 0)" font-family="Liberation Serif" font-size="100" fill="#000">–</text>
<text transform="matrix(0.1708 0 0 0.2827 10.41 0)" font-family="Liberation Serif" font-size="100" fill="#000">0</text>
<text transform="matrix(0.2092 0 0 0.2827 20.78 0)" font-family="Liberation Serif" font-size="100" fill="#000">.</text>
<text transform="matrix(0.1896 0 0 0.2827 31.24 0)" font-family="Liberation Serif" font-size="100" fill="#000">02</text>
</g>
<g transform="translate(1171.9 460.6) rotate(-90)">
<text transform="matrix(0.1662 0 0 0.2827 0.12 0)" font-family="Liberation Serif" font-size="100" fill="#000">–</text>
<text transform="matrix(0.1708 0 0 0.2827 10.41 0)" font-family="Liberation Serif" font-size="100" fill="#000">0</text>
<text transform="matrix(0.2092 0 0 0.2827 20.78 0)" font-family="Liberation Serif" font-size="100" fill="#000">.</text>
<text transform="matrix(0.1896 0 0 0.2827 31.24 0)" font-family="Liberation Serif" font-size="100" fill="#000">28</text>
</g>
<circle cx="834.4" cy="519.8" r="1.1" fill="#000"/>
<path d="M834.4 519.8L875.2 655.1" stroke="#000" stroke-width="1.2"/>
<path d="M874.7 655.1L926.7 655.1" stroke="#000" stroke-width="2.0"/>
<text transform="matrix(0.2760 0 0 0.5545 895.4 645.1)" font-family="Liberation Serif" font-size="100" fill="#000" >1</text>
<path d="M1124.3 544.7L1138.8 670.3H1382.9" stroke="#000" stroke-width="1.2" fill="none" />
<circle cx="1418.5" cy="491.8" r="1.1" fill="#000"/>
<path d="M1418.5 491.8L1443.6 667.6" stroke="#000" stroke-width="1.2"/>
<path d="M1443.2 667.6L1494.3 667.6" stroke="#000" stroke-width="2.0"/>
<path d="M1512.1 667.6L1563.7 667.6" stroke="#000" stroke-width="2.0"/>
<path d="M1580.9 667.6L1632.6 667.6" stroke="#000" stroke-width="2.0"/>
<path d="M1494 667.6L1503.1 687.3L1512.4 667.6" stroke="#000" stroke-width="1.2" fill="none" />
<path d="M1563.4 667.6L1572.5 687.3L1581.2 667.6" stroke="#000" stroke-width="1.2" fill="none" />
<text transform="matrix(0.3380 0 0 0.5468 1461.6 657.3)" font-family="Liberation Serif" font-size="100" fill="#000" >2</text>
<text transform="matrix(0.3300 0 0 0.5468 1530.8 657.3)" font-family="Liberation Serif" font-size="100" fill="#000" >3</text>
<text transform="matrix(0.3640 0 0 0.5502 1599.3 657.3)" font-family="Liberation Serif" font-size="100" fill="#000" >4</text>
<path d="M1310.7 638.6H1347M1310.7 638.6L1328.7 670.3L1365.9 607.2" stroke="#000" stroke-width="1.2" fill="none" />
<text transform="matrix(0.2070 0 0 0.3278 1310.2 632.3)" font-family="Liberation Serif" font-size="100" fill="#000">3</text>
<text transform="matrix(0.2426 0 0 0.3278 1322.9 632.3)" font-family="Liberation Serif" font-size="100" fill="#000">.</text>
<text transform="matrix(0.2070 0 0 0.3278 1335.45 632.3)" font-family="Liberation Serif" font-size="100" fill="#000">2</text>
<text class="cj" transform="matrix(0.2322 0 0 0.2954 1155.24 662.62)" font-size="100" fill="#000">隔爆接合面</text>
<text transform="matrix(0.1849 0 0 0.3588 1146.3 701.5)" font-family="Liberation Serif" font-size="100" fill="#000" >L</text>
<text transform="matrix(0.4098 0 0 0.3659 1163.2 701.5)" font-family="Liberation Serif" font-size="100" fill="#000" >≥</text>
<text transform="matrix(0.2392 0 0 0.3684 1190.2 701.5)" font-family="Liberation Serif" font-size="100" fill="#000">12</text>
<text transform="matrix(0.2726 0 0 0.3684 1216.31 701.5)" font-family="Liberation Serif" font-size="100" fill="#000">.</text>
<text transform="matrix(0.2155 0 0 0.3684 1229.62 701.5)" font-family="Liberation Serif" font-size="100" fill="#000">5</text>
<text transform="matrix(0.2000 0 0 0.3398 1246.5 701.5)" font-family="Liberation Serif" font-size="100" fill="#000" >,</text>
<text transform="matrix(0.3338 0 0 0.3740 1273.5 701.5)" font-family="Liberation Serif" font-size="100" fill="#000">ic</text>
<text transform="matrix(0.4117 0 0 0.3659 1302.6 701.5)" font-family="Liberation Serif" font-size="100" fill="#000" >≤</text>
<text transform="matrix(0.2350 0 0 0.3684 1328.7 701.5)" font-family="Liberation Serif" font-size="100" fill="#000">0</text>
<text transform="matrix(0.2726 0 0 0.3684 1343.14 701.5)" font-family="Liberation Serif" font-size="100" fill="#000">.</text>
<text transform="matrix(0.2350 0 0 0.3684 1357.35 701.5)" font-family="Liberation Serif" font-size="100" fill="#000">4</text>
<path d="M980.8 801.3L1731.2 801.3" stroke="#111" stroke-width="1.3"/>
<path d="M980.8 834.7L1731.2 834.7" stroke="#111" stroke-width="1.3"/>
<path d="M980.8 868L1731.2 868" stroke="#111" stroke-width="1.3"/>
<path d="M980.8 901.1L1731.2 901.1" stroke="#111" stroke-width="1.3"/>
<path d="M980.8 934.3L1731.2 934.3" stroke="#111" stroke-width="1.3"/>
<path d="M980.8 983.9L1731.2 983.9" stroke="#111" stroke-width="1.3"/>
<path d="M980.8 801.3L980.8 1217.5" stroke="#111" stroke-width="1.3"/>
<path d="M1018.4 801.3L1018.4 983.9" stroke="#111" stroke-width="1.3"/>
<path d="M1185.2 801.3L1185.2 983.9" stroke="#111" stroke-width="1.3"/>
<path d="M1351.8 801.3L1351.8 983.9" stroke="#111" stroke-width="1.3"/>
<path d="M1389.4 801.3L1389.4 983.9" stroke="#111" stroke-width="1.3"/>
<path d="M1522.2 801.3L1522.2 983.9" stroke="#111" stroke-width="1.3"/>
<path d="M1664.5 801.3L1664.5 983.9" stroke="#111" stroke-width="1.3"/>
<path d="M1593.2 801.3L1593.2 959.3" stroke="#111" stroke-width="1.3"/>
<path d="M1522.2 959.3L1664.5 959.3" stroke="#111" stroke-width="1.3"/>
<path d="M980.8 1013.3L1314.5 1013.3" stroke="#111" stroke-width="1.3"/>
<path d="M980.8 1042.6L1314.5 1042.6" stroke="#111" stroke-width="1.3"/>
<path d="M980.8 1071.7L1314.5 1071.7" stroke="#111" stroke-width="1.3"/>
<path d="M980.8 1101L1314.5 1101" stroke="#111" stroke-width="1.3"/>
<path d="M980.8 1130.3L1314.5 1130.3" stroke="#111" stroke-width="1.3"/>
<path d="M980.8 1159.2L1314.5 1159.2" stroke="#111" stroke-width="1.3"/>
<path d="M980.8 1188L1314.5 1188" stroke="#111" stroke-width="1.3"/>
<path d="M1022.2 983.9L1022.2 1101" stroke="#111" stroke-width="1.3"/>
<path d="M1064.6 983.9L1064.6 1101" stroke="#111" stroke-width="1.3"/>
<path d="M1131 983.9L1131 1101" stroke="#111" stroke-width="1.3"/>
<path d="M1197.3 983.9L1197.3 1217.5" stroke="#111" stroke-width="1.3"/>
<path d="M1247.7 983.9L1247.7 1217.5" stroke="#111" stroke-width="1.3"/>
<path d="M1314.5 983.9L1314.5 1217.5" stroke="#111" stroke-width="1.3"/>
<path d="M1031.4 1101L1031.4 1217.5" stroke="#111" stroke-width="1.3"/>
<path d="M1081.1 1101L1081.1 1217.5" stroke="#111" stroke-width="1.3"/>
<path d="M1147.6 1101L1147.6 1217.5" stroke="#111" stroke-width="1.3"/>
<path d="M1314.5 1059L1731.2 1059" stroke="#111" stroke-width="1.3"/>
<path d="M1314.5 1101L1522.2 1101" stroke="#111" stroke-width="1.3"/>
<path d="M1314.5 1142.3L1731.2 1142.3" stroke="#111" stroke-width="1.3"/>
<path d="M1314.5 1180L1731.2 1180" stroke="#111" stroke-width="1.3"/>
<path d="M1522.2 983.9L1522.2 1217.5" stroke="#111" stroke-width="1.3"/>
<path d="M1422.6 1059L1422.6 1142.3" stroke="#111" stroke-width="1.3"/>
<path d="M1472.6 1059L1472.6 1142.3" stroke="#111" stroke-width="1.3"/>
<path d="M1422.6 1180L1422.6 1217.5" stroke="#111" stroke-width="1.3"/>
<path d="M1341.2 1101L1341.2 1142.3" stroke="#111" stroke-width="1.3"/>
<path d="M1368.4 1101L1368.4 1142.3" stroke="#111" stroke-width="1.3"/>
<path d="M1395.6 1101L1395.6 1142.3" stroke="#111" stroke-width="1.3"/>
<text transform="matrix(0.1760 0 0 0.2492 995.6 826.2)" font-family="Liberation Serif" font-size="100" fill="#000" >4</text>
<text transform="matrix(0.1176 0 0 0.2376 1033.2 825.6)" font-family="Liberation Serif" font-size="100" fill="#000">GB</text>
<text transform="matrix(0.2549 0 0 0.2376 1051.29 825.6)" font-family="Liberation Serif" font-size="100" fill="#000">/</text>
<text transform="matrix(0.1205 0 0 0.2376 1060.13 825.6)" font-family="Liberation Serif" font-size="100" fill="#000">T</text>
<text transform="matrix(0.1634 0 0 0.2376 1078.08 825.6)" font-family="Liberation Serif" font-size="100" fill="#000">93</text>
<text transform="matrix(0.1432 0 0 0.2376 1096.13 825.6)" font-family="Liberation Serif" font-size="100" fill="#000">–</text>
<text transform="matrix(0.1714 0 0 0.2376 1105.01 825.6)" font-family="Liberation Serif" font-size="100" fill="#000">1987</text>
<text transform="matrix(0.1640 0 0 0.2477 1366.9 826.2)" font-family="Liberation Serif" font-size="100" fill="#000" >2</text>
<text transform="matrix(0.1760 0 0 0.2477 995.6 859.3)" font-family="Liberation Serif" font-size="100" fill="#000" >3</text>
<text transform="matrix(0.1179 0 0 0.2376 1033.2 858.7)" font-family="Liberation Serif" font-size="100" fill="#000">GB</text>
<text transform="matrix(0.2549 0 0 0.2376 1051.35 858.7)" font-family="Liberation Serif" font-size="100" fill="#000">/</text>
<text transform="matrix(0.1208 0 0 0.2376 1060.2 858.7)" font-family="Liberation Serif" font-size="100" fill="#000">T</text>
<text transform="matrix(0.1638 0 0 0.2376 1078.21 858.7)" font-family="Liberation Serif" font-size="100" fill="#000">97</text>
<text transform="matrix(0.1758 0 0 0.2376 1096.23 858.7)" font-family="Liberation Serif" font-size="100" fill="#000">.</text>
<text transform="matrix(0.1476 0 0 0.2376 1105.21 858.7)" font-family="Liberation Serif" font-size="100" fill="#000">1</text>
<text transform="matrix(0.1436 0 0 0.2376 1114.31 858.7)" font-family="Liberation Serif" font-size="100" fill="#000">–</text>
<text transform="matrix(0.1719 0 0 0.2376 1123.21 858.7)" font-family="Liberation Serif" font-size="100" fill="#000">2002</text>
<text transform="matrix(0.1640 0 0 0.2477 1366.9 859.3)" font-family="Liberation Serif" font-size="100" fill="#000" >2</text>
<text transform="matrix(0.1760 0 0 0.2477 995.6 892.6)" font-family="Liberation Serif" font-size="100" fill="#000" >2</text>
<text transform="matrix(0.1179 0 0 0.2376 1033.2 892)" font-family="Liberation Serif" font-size="100" fill="#000">GB</text>
<text transform="matrix(0.2549 0 0 0.2376 1051.35 892)" font-family="Liberation Serif" font-size="100" fill="#000">/</text>
<text transform="matrix(0.1208 0 0 0.2376 1060.2 892)" font-family="Liberation Serif" font-size="100" fill="#000">T</text>
<text transform="matrix(0.1719 0 0 0.2376 1078.21 892)" font-family="Liberation Serif" font-size="100" fill="#000">6170</text>
<text transform="matrix(0.1436 0 0 0.2376 1114.31 892)" font-family="Liberation Serif" font-size="100" fill="#000">–</text>
<text transform="matrix(0.1719 0 0 0.2376 1123.21 892)" font-family="Liberation Serif" font-size="100" fill="#000">2015</text>
<text transform="matrix(0.1640 0 0 0.2477 1366.9 892.6)" font-family="Liberation Serif" font-size="100" fill="#000" >2</text>
<text transform="matrix(0.1320 0 0 0.2485 997 926.6)" font-family="Liberation Serif" font-size="100" fill="#000" >1</text>
<text transform="matrix(0.1270 0 0 0.2075 1034 926)" font-family="Liberation Serif" font-size="100" fill="#000">JXZ</text>
<text transform="matrix(0.1237 0 0 0.2075 1057.35 926)" font-family="Liberation Serif" font-size="100" fill="#000">–</text>
<text transform="matrix(0.1493 0 0 0.2075 1065.01 926)" font-family="Liberation Serif" font-size="100" fill="#000">JP</text>
<text transform="matrix(0.1411 0 0 0.2075 1080.52 926)" font-family="Liberation Serif" font-size="100" fill="#000">16</text>
<text transform="matrix(0.1237 0 0 0.2075 1096.11 926)" font-family="Liberation Serif" font-size="100" fill="#000">–</text>
<text transform="matrix(0.1271 0 0 0.2075 1103.78 926)" font-family="Liberation Serif" font-size="100" fill="#000">6</text>
<text transform="matrix(0.0881 0 0 0.2075 1111.53 926)" font-family="Liberation Serif" font-size="100" fill="#000">K</text>
<text transform="matrix(0.1237 0 0 0.2075 1119.37 926)" font-family="Liberation Serif" font-size="100" fill="#000">–</text>
<text transform="matrix(0.1271 0 0 0.2075 1127.04 926)" font-family="Liberation Serif" font-size="100" fill="#000">ø</text>
<text transform="matrix(0.1411 0 0 0.2075 1134.79 926)" font-family="Liberation Serif" font-size="100" fill="#000">60</text>
<text transform="matrix(0.1180 0 0 0.2485 1368.7 926.6)" font-family="Liberation Serif" font-size="100" fill="#000" >1</text>
<text class="cj" transform="matrix(0.1788 0 0 0.2389 1200.14 828.56)" font-size="100" fill="#000">弹垫16</text>
<text class="cj" transform="matrix(0.1782 0 0 0.2381 1200.5 861.77)" font-size="100" fill="#000">铜垫圈16</text>
<text class="cj" transform="matrix(0.1787 0 0 0.2394 1200.21 894.89)" font-size="100" fill="#000" textLength="350" lengthAdjust="spacingAndGlyphs">螺母M16</text>
<text class="cj" transform="matrix(0.1738 0 0 0.2379 1200.4 928.5)" font-size="100" fill="#000">接线柱</text>
<text transform="matrix(0.1672 0 0 0.2451 1438.7 826.9)" font-family="Liberation Serif" font-size="100" fill="#000">65</text>
<text transform="matrix(0.0848 0 0 0.2451 1457.08 826.9)" font-family="Liberation Serif" font-size="100" fill="#000">M</text>
<text transform="matrix(0.1507 0 0 0.2451 1466.27 826.9)" font-family="Liberation Serif" font-size="100" fill="#000">n</text>
<text transform="matrix(0.1059 0 0 0.2451 1443.2 859.9)" font-family="Liberation Serif" font-size="100" fill="#000">H</text>
<text transform="matrix(0.1697 0 0 0.2451 1452.53 859.9)" font-family="Liberation Serif" font-size="100" fill="#000">62</text>
<text transform="matrix(0.1059 0 0 0.2451 1443.2 893.3)" font-family="Liberation Serif" font-size="100" fill="#000">H</text>
<text transform="matrix(0.1697 0 0 0.2451 1452.53 893.3)" font-family="Liberation Serif" font-size="100" fill="#000">62</text>
<text class="cj" transform="matrix(0.0903 0 0 0.1089 1386.54 924.71)" font-size="100" fill="#000" textLength="1550" lengthAdjust="spacingAndGlyphs">不饱和聚酯玻璃纤维增强模塑料DMC</text>
<text class="cj" transform="matrix(0.1190 0 0 0.1518 1667.44 924.62)" font-size="100" fill="#000">煤科通用件</text>
<text class="cj" transform="matrix(0.1779 0 0 0.2837 981.5 970.75)" font-size="100" fill="#000">序号</text>
<text class="cj" transform="matrix(0.2214 0 0 0.2849 1030.06 970.76)" font-size="100" fill="#000">代</text>
<text class="cj" transform="matrix(0.2190 0 0 0.2768 1108.24 970.86)" font-size="100" fill="#000">号</text>
<text class="cj" transform="matrix(0.2176 0 0 0.2840 1211.32 970.74)" font-size="100" fill="#000">名</text>
<text class="cj" transform="matrix(0.2288 0 0 0.2849 1277.57 970.76)" font-size="100" fill="#000">称</text>
<text class="cj" transform="matrix(0.1777 0 0 0.2817 1353.13 970.49)" font-size="100" fill="#000">数量</text>
<text class="cj" transform="matrix(0.2208 0 0 0.2817 1407.53 970.49)" font-size="100" fill="#000">材</text>
<text class="cj" transform="matrix(0.2192 0 0 0.2826 1463.08 970.51)" font-size="100" fill="#000">料</text>
<text class="cj" transform="matrix(0.1661 0 0 0.2173 1540.45 955.8)" font-size="100" fill="#000">单</text>
<text class="cj" transform="matrix(0.1688 0 0 0.2182 1567.99 955.85)" font-size="100" fill="#000">件</text>
<text class="cj" transform="matrix(0.1731 0 0 0.2236 1611.69 956.39)" font-size="100" fill="#000">总</text>
<text class="cj" transform="matrix(0.1717 0 0 0.2194 1639.78 955.89)" font-size="100" fill="#000">计</text>
<text class="cj" transform="matrix(0.1851 0 0 0.2112 1563.4 980.91)" font-size="100" fill="#000">重</text>
<text class="cj" transform="matrix(0.1958 0 0 0.2115 1607.06 980.65)" font-size="100" fill="#000">量</text>
<text class="cj" transform="matrix(0.2182 0 0 0.2719 1668.28 970.4)" font-size="100" fill="#000">备</text>
<text class="cj" transform="matrix(0.2229 0 0 0.2728 1702.08 970.39)" font-size="100" fill="#000">注</text>
<text class="cj" transform="matrix(0.1220 0 0 0.1507 991.07 1091.03)" font-size="100" fill="#000">标记</text>
<text class="cj" transform="matrix(0.1247 0 0 0.1501 1031.1 1090.98)" font-size="100" fill="#000">处数</text>
<text class="cj" transform="matrix(0.1234 0 0 0.1494 1081.27 1091.02)" font-size="100" fill="#000">分区</text>
<text class="cj" transform="matrix(0.1238 0 0 0.1497 1133.8 1090.98)" font-size="100" fill="#000">更改文件号</text>
<text class="cj" transform="matrix(0.1260 0 0 0.1501 1209.95 1091.01)" font-size="100" fill="#000">签名</text>
<text class="cj" transform="matrix(0.1288 0 0 0.1485 1256.78 1091.05)" font-size="100" fill="#000">年</text>
<text class="cj" transform="matrix(0.1149 0 0 0.1556 1276.98 1090.98)" font-size="100" fill="#000">月</text>
<text class="cj" transform="matrix(0.1349 0 0 0.1507 1293.91 1090.82)" font-size="100" fill="#000">日</text>
<text class="cj" transform="matrix(0.1194 0 0 0.1544 989.05 1120.19)" font-size="100" fill="#000">设计</text>
<text class="cj" transform="matrix(0.1185 0 0 0.1551 989.25 1149.77)" font-size="100" fill="#000">校核</text>
<text class="cj" transform="matrix(0.1212 0 0 0.1581 982.06 1179.64)" font-size="100" fill="#000">主管设计</text>
<text class="cj" transform="matrix(0.1234 0 0 0.1601 1156.67 1120.14)" font-size="100" fill="#000">标准化</text>
<text class="cj" transform="matrix(0.1209 0 0 0.1451 1161.46 1149.7)" font-size="100" fill="#000">工艺</text>
<text class="cj" transform="matrix(0.1201 0 0 0.1576 1161.54 1179.64)" font-size="100" fill="#000">审核</text>
<text class="cj" transform="matrix(0.1195 0 0 0.1612 1161.59 1208.73)" font-size="100" fill="#000">批准</text>
<text transform="matrix(0.1083 0 0 0.1550 1034.5 1120.8)" font-family="Liberation Serif" font-size="100" fill="#000">zouxyuan</text>
<text transform="matrix(0.1035 0 0 0.1519 1087.4 1121.4)" font-family="Liberation Serif" font-size="100" fill="#000">2023</text>
<text transform="matrix(0.0864 0 0 0.1519 1109.13 1121.4)" font-family="Liberation Serif" font-size="100" fill="#000">–</text>
<text transform="matrix(0.0986 0 0 0.1519 1114.49 1121.4)" font-family="Liberation Serif" font-size="100" fill="#000">06</text>
<text transform="matrix(0.0864 0 0 0.1519 1125.38 1121.4)" font-family="Liberation Serif" font-size="100" fill="#000">–</text>
<text transform="matrix(0.0986 0 0 0.1519 1130.74 1121.4)" font-family="Liberation Serif" font-size="100" fill="#000">08</text>
<text transform="matrix(0.1155 0 0 0.1550 1204.6 1178.6)" font-family="Liberation Serif" font-size="100" fill="#000">zoufb</text>
<text transform="matrix(0.1035 0 0 0.1519 1252.2 1179.1)" font-family="Liberation Serif" font-size="100" fill="#000">2023</text>
<text transform="matrix(0.0864 0 0 0.1519 1273.93 1179.1)" font-family="Liberation Serif" font-size="100" fill="#000">–</text>
<text transform="matrix(0.0986 0 0 0.1519 1279.29 1179.1)" font-family="Liberation Serif" font-size="100" fill="#000">06</text>
<text transform="matrix(0.0864 0 0 0.1519 1290.18 1179.1)" font-family="Liberation Serif" font-size="100" fill="#000">–</text>
<text transform="matrix(0.0986 0 0 0.1519 1295.54 1179.1)" font-family="Liberation Serif" font-size="100" fill="#000">08</text>
<text transform="matrix(0.1876 0 0 0.2496 1364.9 1014.5)" font-family="Liberation Serif" font-size="100" fill="#000">JP</text>
<text transform="matrix(0.1773 0 0 0.2496 1384.38 1014.5)" font-family="Liberation Serif" font-size="100" fill="#000">16</text>
<text transform="matrix(0.1554 0 0 0.2496 1403.97 1014.5)" font-family="Liberation Serif" font-size="100" fill="#000">–</text>
<text transform="matrix(0.1598 0 0 0.2496 1413.61 1014.5)" font-family="Liberation Serif" font-size="100" fill="#000">6</text>
<text transform="matrix(0.1106 0 0 0.2496 1423.35 1014.5)" font-family="Liberation Serif" font-size="100" fill="#000">K</text>
<text transform="matrix(0.1554 0 0 0.2496 1433.2 1014.5)" font-family="Liberation Serif" font-size="100" fill="#000">–</text>
<text transform="matrix(0.1598 0 0 0.2496 1442.83 1014.5)" font-family="Liberation Serif" font-size="100" fill="#000">ø</text>
<text transform="matrix(0.1773 0 0 0.2496 1452.57 1014.5)" font-family="Liberation Serif" font-size="100" fill="#000">60</text>
<text class="cj" transform="matrix(0.1900 0 0 0.2433 1355.68 1050.16)" font-size="100" fill="#000">隔爆型接线端子</text>
<text class="cs" font-weight="500" transform="matrix(0.1921 0 0 0.1935 1531.63 1030.35)" font-size="100" fill="#000">无锡煤科电器有限公司</text>
<text class="cj" transform="matrix(0.1366 0 0 0.1613 1334.22 1087.11)" font-size="100" fill="#000">阶</text>
<text class="cj" transform="matrix(0.1314 0 0 0.1616 1355.32 1087.09)" font-size="100" fill="#000">段</text>
<text class="cj" transform="matrix(0.1321 0 0 0.1615 1375.75 1087.14)" font-size="100" fill="#000">标</text>
<text class="cj" transform="matrix(0.1318 0 0 0.1687 1396.01 1087.71)" font-size="100" fill="#000">记</text>
<text class="cj" transform="matrix(0.1340 0 0 0.1652 1432.73 1087.48)" font-size="100" fill="#000">重量</text>
<text class="cj" transform="matrix(0.1330 0 0 0.1615 1482.38 1087.13)" font-size="100" fill="#000">比例</text>
<text transform="matrix(0.1320 0 0 0.2195 1474.6 1129.1)" font-family="Liberation Serif" font-size="100" fill="#000">1</text>
<text transform="matrix(0.1625 0 0 0.2195 1483.69 1129.1)" font-family="Liberation Serif" font-size="100" fill="#000">:</text>
<text transform="matrix(0.1320 0 0 0.2195 1490.7 1129.1)" font-family="Liberation Serif" font-size="100" fill="#000">1</text>
<text transform="matrix(0.1625 0 0 0.2195 1498.7 1129.1)" font-family="Liberation Serif" font-size="100" fill="#000">.</text>
<text transform="matrix(0.1320 0 0 0.2195 1506.8 1129.1)" font-family="Liberation Serif" font-size="100" fill="#000">5</text>
<text class="cj" transform="matrix(0.3216 0 0 0.4661 1593.5 1118.28)" font-size="100" fill="#000">总</text>
<text class="cj" transform="matrix(0.3631 0 0 0.4615 1627.55 1117.06)" font-size="100" fill="#000">图</text>
<text transform="matrix(0.2139 0 0 0.2887 1551.1 1172.2)" font-family="Liberation Serif" font-size="100" fill="#000">JP</text>
<text transform="matrix(0.2021 0 0 0.2887 1573.31 1172.2)" font-family="Liberation Serif" font-size="100" fill="#000">16</text>
<text transform="matrix(0.1772 0 0 0.2887 1595.65 1172.2)" font-family="Liberation Serif" font-size="100" fill="#000">–</text>
<text transform="matrix(0.1822 0 0 0.2887 1606.64 1172.2)" font-family="Liberation Serif" font-size="100" fill="#000">6</text>
<text transform="matrix(0.1261 0 0 0.2887 1617.74 1172.2)" font-family="Liberation Serif" font-size="100" fill="#000">K</text>
<text transform="matrix(0.1772 0 0 0.2887 1628.97 1172.2)" font-family="Liberation Serif" font-size="100" fill="#000">–</text>
<text transform="matrix(0.1822 0 0 0.2887 1639.96 1172.2)" font-family="Liberation Serif" font-size="100" fill="#000">ø</text>
<text transform="matrix(0.2021 0 0 0.2887 1651.06 1172.2)" font-family="Liberation Serif" font-size="100" fill="#000">60</text>
<text transform="matrix(0.1772 0 0 0.2887 1673.4 1172.2)" font-family="Liberation Serif" font-size="100" fill="#000">–</text>
<text transform="matrix(0.1654 0 0 0.2887 1684.39 1172.2)" font-family="Liberation Serif" font-size="100" fill="#000">ZT</text>
<text class="cj" transform="matrix(0.1643 0 0 0.1631 1320.39 1206.18)" font-size="100" fill="#000">共1张</text>
<text class="cj" transform="matrix(0.1623 0 0 0.1618 1375.48 1206.19)" font-size="100" fill="#000">第1张</text>
<text class="cj" transform="matrix(0.1355 0 0 0.1617 1429.05 1206.18)" font-size="100" fill="#000">版本</text>
<text transform="matrix(0.0722 0 0 0.1549 1465.8 1207.6)" font-family="Liberation Serif" font-size="100" fill="#000">DW</text>
<text transform="matrix(0.1204 0 0 0.1549 1479.03 1207.6)" font-family="Liberation Serif" font-size="100" fill="#000">24</text>
<text transform="matrix(0.0887 0 0 0.1549 1492.25 1207.6)" font-family="Liberation Serif" font-size="100" fill="#000">L</text>
<text transform="matrix(0.1204 0 0 0.1549 1498.86 1207.6)" font-family="Liberation Serif" font-size="100" fill="#000">27</text>
<text class="cj" transform="matrix(0.1357 0 0 0.1624 1528.05 1206.22)" font-size="100" fill="#000">替代</text>
<text class="cj" transform="matrix(0.2000 0 0 0.2441 196.22 845.45)" font-size="100" fill="#000">技术要求</text>
<text class="cj" transform="matrix(0.2130 0 0 0.2443 193.4 878.62)" font-size="100" fill="#000" textLength="3400">1.本产品应符合GB/T 3836-2021、Q/MK MA0204-2022企业标准进行生产制造。</text>
<text class="cj" transform="matrix(0.2002 0 0 0.2486 195.8 913.79)" font-size="100" fill="#000" textLength="2550">2.产品各零件应该完好,无缺损,无开裂,表面光滑无毛边。</text>
<text class="cj" transform="matrix(0.2004 0 0 0.2443 195 948.22)" font-size="100" fill="#000" textLength="1300">3.隔爆面不得有伤痕等缺陷。</text>
<text class="cj" transform="matrix(0.1963 0 0 0.2489 195.93 1016.56)" font-size="100" fill="#000">技术参数</text>
<text class="cj" transform="matrix(0.1992 0 0 0.2432 194.4 1050.63)" font-size="100" fill="#000"><tspan x="0" textLength="850">1.电压等级：6600V</tspan><tspan x="1050" textLength="850">2.导电杆大小：M16</tspan></text>
</svg>
</body></html>
